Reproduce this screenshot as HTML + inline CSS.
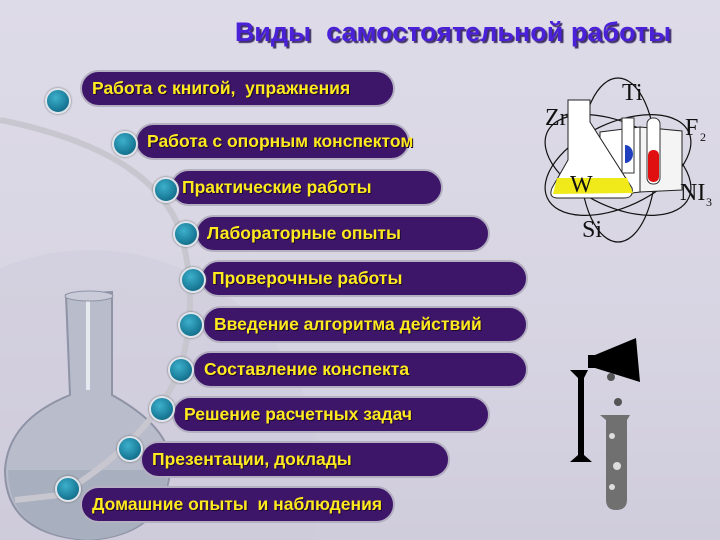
<!DOCTYPE html>
<html><head><meta charset="utf-8"><style>
html,body{margin:0;overflow:hidden;width:720px;height:540px}
#c{position:relative;width:720px;height:540px;overflow:hidden;background:linear-gradient(180deg,#dedbe8 0%,#d8d5e3 60%,#cfccdc 100%);font-family:"Liberation Sans",sans-serif}
.bar{position:absolute;height:37px;border-radius:19px;background:#3d166a;border:2px solid #b4b0c2;box-sizing:border-box;color:#ffea1f;font-weight:bold;font-size:17.5px;line-height:33px;padding-left:10px;white-space:nowrap;overflow:visible;text-shadow:1px 1px 0 #1a0830}
.dot{position:absolute;width:26px;height:26px;border-radius:50%;background:radial-gradient(circle at 40% 35%,#3db0cc,#1a7d9a 60%,#0f5670);border:2px solid #dfe3ea;box-sizing:border-box;box-shadow:0 0 2px #666}
h1{position:absolute;left:0;width:906px;top:17px;margin:0;text-align:center;font-size:27px;font-weight:bold;color:#4a20d8;text-shadow:2px 2px 1px #403068;white-space:nowrap}
</style></head><body><div id="c">
<svg width="720" height="540" style="position:absolute;left:0;top:0">
<ellipse cx="90" cy="480" rx="230" ry="230" fill="#cdc9da" opacity="0.5"/>
<path d="M66 295 L112 292 L112 395 Q175 430 170 470 Q165 535 88 540 Q5 535 5 470 Q8 420 70 395 Z" fill="#b9bcca" stroke="#8e93a6" stroke-width="2"/>
<path d="M8 470 L168 470 Q164 535 88 540 Q8 535 8 470Z" fill="#a8afbe"/>
<rect x="86" y="300" width="4" height="90" fill="#e6e8f0"/>
<ellipse cx="89" cy="296" rx="24" ry="5" fill="#c9ccd8" stroke="#8e93a6"/>
<path d="M0 120 Q150 150 180 230 Q200 300 180 370 Q150 440 60 495 L15 500" fill="none" stroke="#c8c7cf" stroke-width="6"/>
<g fill="none" stroke="#111" stroke-width="1.2">
<ellipse cx="618" cy="165" rx="78" ry="42" transform="rotate(-25 618 165)"/>
<ellipse cx="618" cy="165" rx="78" ry="42" transform="rotate(25 618 165)"/>
<ellipse cx="618" cy="160" rx="38" ry="82"/>
</g>
<path d="M600 132 L640 127 L640 192 L600 197Z" fill="#fff" stroke="#222"/>
<path d="M640 127 L682 131 L682 190 L640 192Z" fill="#f4f4f4" stroke="#222"/>
<rect x="622" y="118" width="12" height="55" fill="#fff" stroke="#333"/>
<rect x="647" y="118" width="13" height="66" rx="6" fill="#fff" stroke="#333"/>
<rect x="648" y="150" width="11" height="32" rx="5" fill="#e01010"/>
<path d="M625 145 a8 9 0 0 1 0 18Z" fill="#2040c0"/>
<path d="M568 100 L590 100 L590 122 L632 188 Q634 198 624 198 L558 198 Q548 198 552 188 L568 160Z" fill="#fff" stroke="#222"/>
<path d="M557 178 L627 178 L633 193 L553 194Z" fill="#f0ea1a"/>
<g font-family="Liberation Serif,serif" font-size="24" fill="#111">
<text x="622" y="100">Ti</text><text x="545" y="125">Zr</text><text x="685" y="135">F</text><text x="700" y="141" font-size="12">2</text>
<text x="570" y="192">W</text><text x="680" y="200">NI</text><text x="706" y="206" font-size="12">3</text><text x="582" y="237">Si</text>
</g>
<path d="M570 370 L588 370 L584 378 L584 455 L592 462 L570 462 L578 455 L578 378Z" fill="#000"/>
<path d="M588 355 L595 355 L636 338 L640 382 L595 368 L588 368Z" fill="#000"/>
<circle cx="611" cy="377" r="4" fill="#555"/><circle cx="618" cy="402" r="4" fill="#555"/>
<path d="M600 415 L630 415 L627 420 L627 500 Q627 510 616 510 Q606 510 606 500 L606 420Z" fill="#707070"/>
<circle cx="612" cy="436" r="3" fill="#ddd"/><circle cx="617" cy="466" r="4" fill="#ddd"/><circle cx="612" cy="487" r="3" fill="#ddd"/>
</svg>
<h1>Виды&nbsp; самостоятельной работы</h1>
<div class="bar" style="left:80px;top:70px;width:315px">Работа с книгой,&nbsp; упражнения</div>
<div class="bar" style="left:135px;top:123px;width:275px">Работа с опорным конспектом</div>
<div class="bar" style="left:170px;top:169px;width:273px">Практические работы</div>
<div class="bar" style="left:195px;top:215px;width:295px">Лабораторные опыты</div>
<div class="bar" style="left:200px;top:260px;width:328px">Проверочные работы</div>
<div class="bar" style="left:202px;top:306px;width:326px">Введение алгоритма действий</div>
<div class="bar" style="left:192px;top:351px;width:336px">Составление конспекта</div>
<div class="bar" style="left:172px;top:396px;width:318px">Решение расчетных задач</div>
<div class="bar" style="left:140px;top:441px;width:310px">Презентации, доклады</div>
<div class="bar" style="left:80px;top:486px;width:315px">Домашние опыты&nbsp; и наблюдения</div>
<div class="dot" style="left:45px;top:88px"></div>
<div class="dot" style="left:112px;top:131px"></div>
<div class="dot" style="left:153px;top:177px"></div>
<div class="dot" style="left:173px;top:221px"></div>
<div class="dot" style="left:180px;top:267px"></div>
<div class="dot" style="left:178px;top:312px"></div>
<div class="dot" style="left:168px;top:357px"></div>
<div class="dot" style="left:149px;top:396px"></div>
<div class="dot" style="left:117px;top:436px"></div>
<div class="dot" style="left:55px;top:476px"></div>
</div></body></html>
